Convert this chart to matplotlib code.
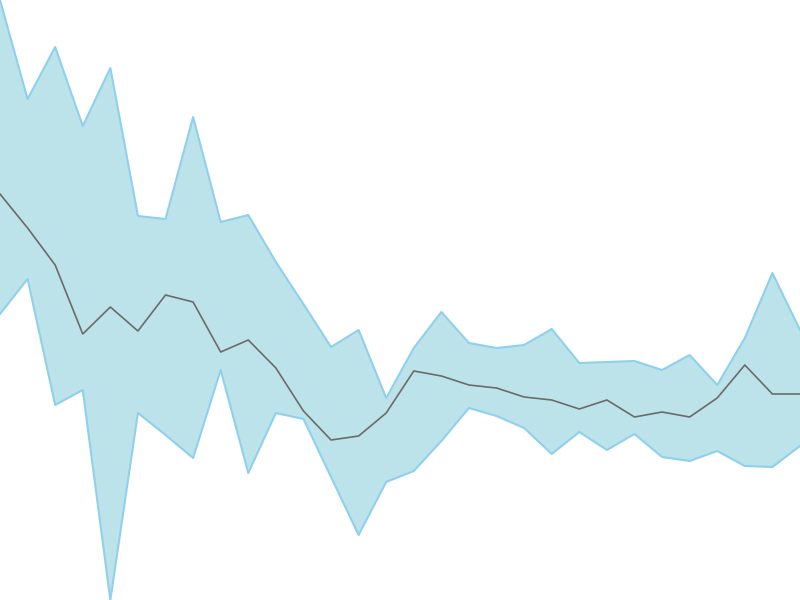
import numpy as np
import matplotlib
matplotlib.use('Agg')
import matplotlib.pyplot as plt

# band values (height above bottom edge)
upper = [600, 501, 553, 474, 532, 384, 381, 483, 378, 385,
         338, 296, 253, 270, 202, 252, 288, 257, 252, 255,
         271, 237, 238, 239, 230, 245, 215, 262, 327, 270]
lower = [286, 321, 195, 210, 0, 187, 165, 142, 230, 127,
         187, 181, 123, 65, 118, 129, 159, 192, 184, 172,
         146, 168, 150, 166, 143, 139, 149, 134, 133, 154]
middle = [406, 372, 335, 266, 293, 269, 305, 298, 248, 260,
          232, 189, 160, 164, 187, 229, 224, 215, 212, 203,
          200, 191, 200, 183, 188, 183, 202, 235, 206, 206]

x = np.arange(len(middle))

fig = plt.figure(figsize=(8, 6), dpi=100)
ax = fig.add_axes([0, 0, 1, 1])
ax.fill_between(x, lower, upper, color='#bde3ea', lw=0)
ax.plot(x, upper, color='#8fd0ee', lw=1.5)
ax.plot(x, lower, color='#8fd0ee', lw=1.5)
ax.plot(x, middle, color='#6b6b6b', lw=1.2)
ax.set_xlim(0, len(x) - 1)
ax.set_ylim(0, 600)
ax.axis('off')

fig.savefig('out.png', dpi=100)
